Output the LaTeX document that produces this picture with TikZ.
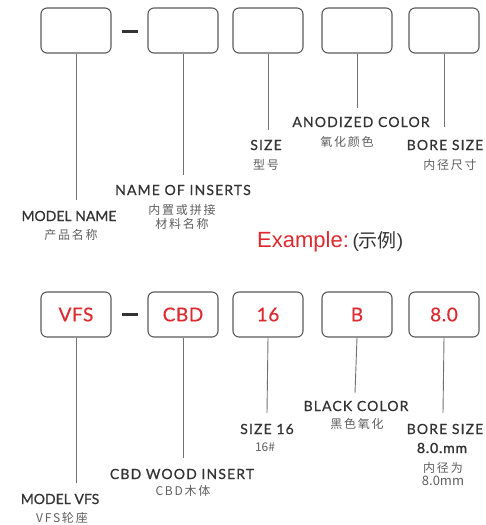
\documentclass[tikz,border=0pt]{standalone}
\usepackage{fontspec}
\setmainfont{Lato}
\newfontfamily\cjk[LetterSpace=15]{Noto Sans CJK SC}
\newfontfamily\cjkplain{Noto Sans CJK SC}
\newfontfamily\arialf{Liberation Sans}
\newfontfamily\labf[LetterSpace=8,FakeBold=0.6]{Lato}
\newfontfamily\tightf[LetterSpace=0,FakeBold=0.6]{Lato}
\newfontfamily\codef[LetterSpace=3,FakeBold=0.5]{Lato}
\newfontfamily\semif[LetterSpace=6,FakeBold=1.6]{Lato}
\definecolor{txt}{HTML}{333333}
\definecolor{cn}{HTML}{5E5E5E}
\definecolor{boxc}{HTML}{5A5A5A}
\definecolor{linec}{HTML}{707070}
\definecolor{redc}{HTML}{DC2A2E}
\tikzset{
  codebox/.style={draw=boxc,line width=1.1pt,rounded corners=6pt,minimum width=70pt,minimum height=45pt,inner sep=0pt,text=redc,font=\codef\fontsize{19}{19}\selectfont},
  lead/.style={draw=linec,line width=0.9pt},
  dashbar/.style={draw=txt,line width=3pt},
  lab/.style={text=txt,inner sep=0pt,font=\labf\fontsize{14}{14}\selectfont},
  tlab/.style={text=txt,inner sep=0pt,font=\tightf\fontsize{14}{14}\selectfont},
  cnlab/.style={text=cn,inner sep=0pt,font=\cjk\fontsize{12}{12}\selectfont},
}
\begin{document}
\begin{tikzpicture}[x=1pt,y=-1pt]
\useasboundingbox (0,0) rectangle (485,525);
% top row
\node[codebox] (t1) at (76,30.5) {};
\node[codebox] (t2) at (183,30.5) {};
\node[codebox] (t3) at (268,30.5) {};
\node[codebox] (t4) at (357,30.5) {};
\node[codebox] (t5) at (444,30.5) {};
\coordinate (td1) at (122,31);
\coordinate (td2) at (138,31);
\draw[dashbar] (td1) -- (td2);
\coordinate (te1) at (76,200);
\coordinate (te2) at (183,175);
\coordinate (te3) at (268,130);
\coordinate (te4) at (357,108);
\coordinate (te5) at (444,127);
\draw[lead] (t1.south) -- (te1);
\draw[lead] (t2.south) -- (te2);
\draw[lead] (t3.south) -- (te3);
\draw[lead] (t4.south) -- (te4);
\draw[lead] (t5.south) -- (te5);
\node[tlab] (l1) at (69,216) {MODEL NAME};
\node[cnlab] (c1) at (71,235) {产品名称};
\node[lab] (l2) at (183,190) {NAME OF INSERTS};
\node[cnlab] (c2a) at (182,210) {内置或拼接};
\node[cnlab] (c2b) at (182,224) {材料名称};
\node[lab] (l3) at (266,145) {SIZE};
\node[cnlab] (c3) at (266,165) {型号};
\node[lab] (l4) at (361,122) {ANODIZED COLOR};
\node[cnlab] (c4) at (347,142) {氧化颜色};
\node[lab] (l5) at (445,145) {BORE SIZE};
\node[cnlab] (c5) at (450,165) {内径尺寸};
% example
\node[inner sep=0pt,anchor=west] (ex) at (257,242) {\arialf\fontsize{22}{22}\selectfont\color{redc}Example:\,\color{txt}\fontsize{19}{19}\selectfont(\cjkplain\fontsize{19}{19}\selectfont 示例\arialf\fontsize{19}{19}\selectfont)};
% bottom row
\node[codebox] (b1) at (76,314.5) {VFS};
\node[codebox] (b2) at (183,314.5) {CBD};
\node[codebox] (b3) at (268,314.5) {16};
\node[codebox] (b4) at (357,314.5) {B};
\node[codebox] (b5) at (444,314.5) {8.0};
\coordinate (bd1) at (122,314);
\coordinate (bd2) at (138,314);
\draw[dashbar] (bd1) -- (bd2);
\coordinate (be1) at (76,483);
\coordinate (be2) at (183,458);
\coordinate (be3) at (267,413);
\coordinate (be4) at (355,393);
\coordinate (be5) at (443,413);
\draw[lead] (b1.south) -- (be1);
\draw[lead] (b2.south) -- (be2);
\draw[lead] (b3.south) -- (be3);
\draw[lead] (b4.south) -- (be4);
\draw[lead] (b5.south) -- (be5);
\node[tlab] (m1) at (60,499) {MODEL VFS};
\node[cnlab] (d1) at (62,518) {VFS轮座};
\node[lab] (m2) at (182,474) {CBD WOOD INSERT};
\node[cnlab] (d2) at (183,491) {CBD木体};
\node[lab] (m3) at (267,429) {SIZE 16};
\node[cnlab,font=\cjkplain\fontsize{12}{12}\selectfont] (d3) at (265,447) {16\#};
\node[lab] (m4) at (356,406) {BLACK COLOR};
\node[cnlab] (d4) at (357,424) {黑色氧化};
\node[lab] (m5) at (445,429) {BORE SIZE};
\node[lab,font=\semif\fontsize{14}{14}\selectfont] (m5b) at (442,448) {8.0.mm};
\node[cnlab] (d5a) at (443,468) {内径为};
\node[cnlab,font=\cjkplain\fontsize{13}{13}\selectfont] (d5b) at (443,481) {8.0mm};
\end{tikzpicture}
\end{document}
